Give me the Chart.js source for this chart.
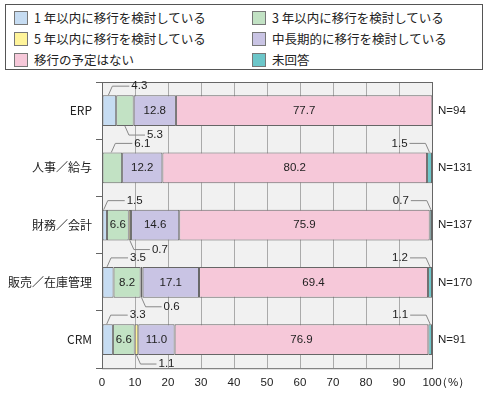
<!DOCTYPE html><html><head><meta charset="utf-8">
<script src="https://cdn.jsdelivr.net/npm/chart.js@4/dist/chart.umd.min.js"></script>
<style>body{margin:0;background:#fff;font-family:"Noto Sans CJK JP",sans-serif}
#wrap{position:relative;width:490px;height:400px}
#leg{position:absolute;left:5px;top:4px;width:476px;height:64px;border:1px solid #555;background:#fff;font-size:12.5px;color:#222}
.it{position:absolute;display:flex;align-items:center}.sw{width:12px;height:12px;border:1px solid #777;margin-right:6px}
</style></head><body><div id="wrap"><canvas id="c" width="490" height="400"></canvas><div id="leg"></div></div>
<script>
const categories=["ERP","人事／給与","財務／会計","販売／在庫管理","CRM"];
const nLabels=["N=94","N=131","N=137","N=170","N=91"];
const seriesNames=["1 年以内に移行を検討している","3 年以内に移行を検討している","5 年以内に移行を検討している","中長期的に移行を検討している","移行の予定はない","未回答"];
const s1=[4.3,0,1.5,3.5,3.3];
const s3=[5.3,6.1,6.6,8.2,6.6];
const s5=[0,0,0.7,0.6,1.1];
const sMid=[12.8,12.2,14.6,17.1,11.0];
const sNone=[77.7,80.2,75.9,69.4,76.9];
const sNA=[0,1.5,0.7,1.2,1.1];
const colors=["#c6dcf2","#c2e2c4","#fff49a","#c9c4e4","#f6c8d9","#6cc6c9"];
const xTicks=[0,10,20,30,40,50,60,70,80,90,100];
const all=[s1,s3,s5,sMid,sNone,sNA];
const leg=document.getElementById('leg');
seriesNames.forEach((n,i)=>{const d=document.createElement('div');d.className='it';d.style.left=(i%2?246:8)+'px';d.style.top=(3+Math.floor(i/2)*21)+'px';d.innerHTML='<span class="sw" style="background:'+colors[i]+'"></span>'+n;leg.appendChild(d);});
const bg={id:'bg',beforeDraw(c){const a=c.chartArea,x=c.ctx;x.fillStyle='#f1f1f1';x.fillRect(a.left,a.top,a.right-a.left,a.bottom-a.top);},
afterDraw(c){const a=c.chartArea,x=c.ctx;x.strokeStyle='#666';x.lineWidth=1;x.strokeRect(a.left+.5,a.top+.5,a.right-a.left,a.bottom-a.top);
x.font='11.5px "Liberation Sans",Arial';x.fillStyle='#222';x.textBaseline='middle';
const ys=c.scales.y,xs=c.scales.x;
x.fillText('（%）',a.right+4,a.bottom+15);
categories.forEach((cat,j)=>{x.textAlign='left';x.fillText(nLabels[j],a.right+6,ys.getPixelForValue(j));
let aboveUsed=false;
all.forEach((s,i)=>{const v=s[j];if(!v)return;const bar=c.getDatasetMeta(i).data[j];const cx=(bar.x+bar.base)/2;const h=bar.height/2,top=bar.y-h,bot=bar.y+h;
x.textAlign='center';x.fillStyle='#222';
if(v>=6.5){x.fillText(v.toFixed(1),cx,bar.y);return;}
x.strokeStyle='#888';x.beginPath();
if(i==5){x.moveTo(cx,top);x.lineTo(cx-4,top-9);x.lineTo(cx-20,top-9);x.stroke();x.textAlign='right';x.fillText(v.toFixed(1),cx-22,top-9);return;}
let up=(i<2&&!aboveUsed);if(up)aboveUsed=true;
if(up){x.moveTo(cx-1,top);x.lineTo(cx+3,top-9);x.lineTo(cx+20,top-9);x.stroke();x.textAlign='left';x.fillText(v.toFixed(1),cx+22,top-9);}
else{x.moveTo(cx,bot);x.lineTo(cx+4,bot+9);x.lineTo(cx+20,bot+9);x.stroke();x.textAlign='left';x.fillText(v.toFixed(1),cx+22,bot+9);}
});});}};
new Chart(document.getElementById('c'),{type:'bar',data:{labels:categories,datasets:all.map((s,i)=>({label:seriesNames[i],data:s,backgroundColor:colors[i],borderColor:'#666',borderWidth:1,borderSkipped:false,barPercentage:0.54,categoryPercentage:1}))},
options:{indexAxis:'y',responsive:false,animation:false,layout:{padding:{top:82,right:58,left:4,bottom:2}},plugins:{legend:{display:false},tooltip:{enabled:false}},
scales:{x:{stacked:true,min:0,max:100,afterBuildTicks:s=>{s.ticks=xTicks.map(v=>({value:v}));},grid:{color:'#aaa',drawTicks:false},border:{display:false},ticks:{padding:8,color:'#222',font:{size:11.5,family:'"Liberation Sans",Arial'}}},
y:{stacked:true,grid:{offset:true,drawOnChartArea:false,tickLength:6,color:'#666'},border:{display:false},ticks:{color:'#222',padding:4,font:{size:12,family:'"Noto Sans CJK JP"'}}}}},plugins:[bg]});
</script></body></html>
